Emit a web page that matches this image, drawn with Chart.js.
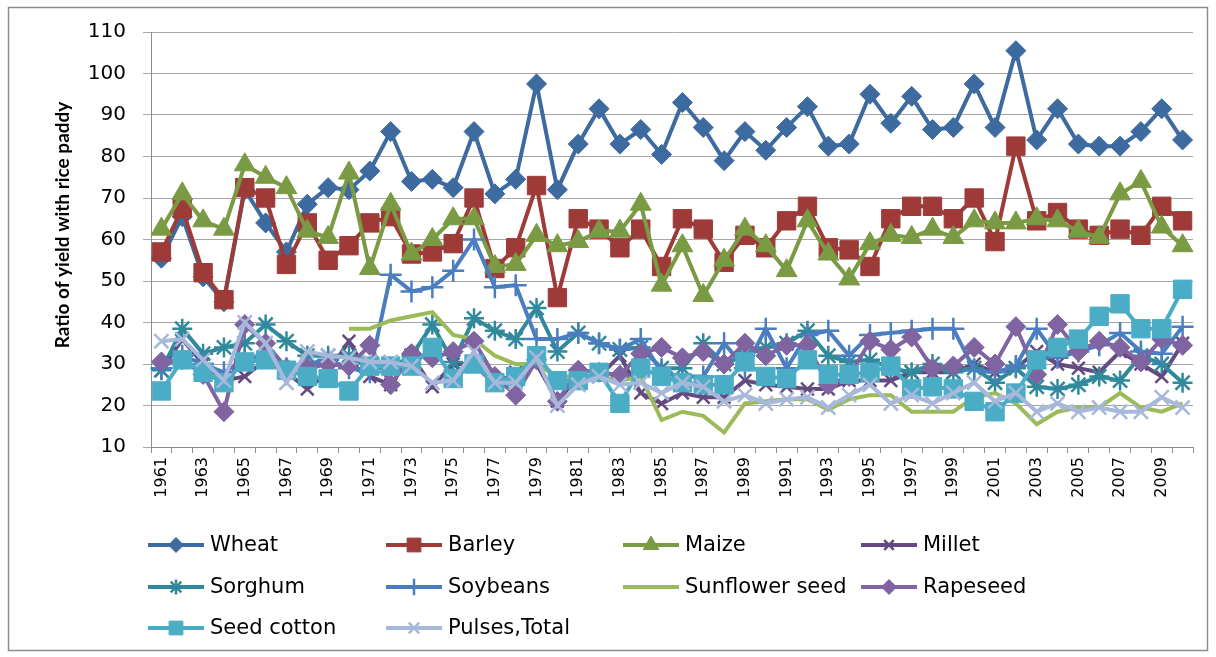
<!DOCTYPE html>
<html>
<head>
<meta charset="utf-8">
<script src="https://cdn.jsdelivr.net/npm/chart.js@4.4.0/dist/chart.umd.min.js"></script>
<style>
html, body { margin: 0; padding: 0; background: #fff; }
</style>
</head>
<body>
<canvas id="chart" width="1216" height="657"></canvas>
<script>
// années
const years = ['1961','1962','1963','1964','1965','1966','1967','1968','1969','1970',
               '1971','1972','1973','1974','1975','1976','1977','1978','1979','1980',
               '1981','1982','1983','1984','1985','1986','1987','1988','1989','1990',
               '1991','1992','1993','1994','1995','1996','1997','1998','1999','2000',
               '2001','2002','2003','2004','2005','2006','2007','2008','2009','2010'];

const yTicks = [10, 20, 30, 40, 50, 60, 70, 80, 90, 100, 110];

const wheat = [55.5, 65.5, 51, 45, 72, 64, 57, 68.5, 72.5, 72,
               76.5, 86, 74, 74.5, 72.5, 86, 71, 74.5, 97.5, 72,
               83, 91.5, 83, 86.5, 80.5, 93, 87, 79, 86, 81.5,
               87, 92, 82.5, 83, 95, 88, 94.5, 86.5, 87, 97.5,
               87, 105.5, 84, 91.5, 83, 82.5, 82.5, 86, 91.5, 84];
const barley = [57, 67.5, 52, 45.5, 72.5, 70, 54, 64, 55, 58.5,
                64, 65.5, 56.5, 57, 59, 70, 53, 58, 73, 46,
                65, 62.5, 58, 62.5, 53.5, 65, 62.5, 54.5, 61, 58,
                64.5, 68, 58, 57.5, 53.5, 65, 68, 68, 65, 70,
                59.5, 82.5, 64.5, 66.5, 62.5, 61, 62.5, 61, 68, 64.5];
const maize = [62.5, 71, 64.5, 62.5, 78, 75, 72.5, 62, 60.5, 76,
               53, 68.5, 56.5, 60, 65, 65, 53.5, 54, 61, 58.5,
               59.5, 62, 62, 68.5, 49, 58.5, 46.5, 55, 62.5, 58.5,
               52.5, 64.5, 56.5, 50.5, 59, 61, 60.5, 62.5, 60.5, 64.5,
               64, 64, 65, 64.5, 62, 60.5, 71, 74, 63, 58.5];
const millet = [28.5, 36, 30, 26, 27, 31, 28, 24, 28, 35.5,
                27, 25, 32, 24.5, 30, 30, 25, 28, 30, 21,
                27, 27, 32, 23, 20.5, 23, 22, 22, 26, 25,
                24.5, 24, 24, 26, 26, 26, 28, 28, 28, 30,
                28, 29, 33, 30, 29, 28, 33, 30, 27, 35];
const sorghum = [28.5, 38.5, 32.5, 34, 35, 39.5, 35.5, 32, 32, 32,
                 29, 29, 32, 39.5, 30.5, 41, 38, 36, 43.5, 33,
                 37.5, 35, 33.5, 34, 29, 29, 35, 30, 32, 34,
                 35, 38, 32, 30.5, 31, 29, 28, 30, 28, 29,
                 25.5, 29, 24.5, 24, 25, 27, 26, 32, 30, 25.5];
const soybeans = [29, 32, 30, 28, 31, 32, 29, 30, 31, 29,
                  28, 51.5, 47.5, 48.5, 52.5, 60, 48.5, 49, 36, 36,
                  37.5, 35, 33.5, 36, 28, 27, 27, 35, 29, 38.5,
                  29, 37, 38, 32, 37, 37.5, 38, 38.5, 38.5, 28.5,
                  28, 29.5, 38.5, 31.5, 33, 34.5, 37.5, 33, 32.5, 39];
const sunflower = [null, null, null, null, null, null, null, null, null, 38.5,
                   38.5, 40.5, 41.5, 42.5, 37, 36, 32, 30, 30, 27,
                   27, 27, 26, 27, 16.5, 18.5, 17.5, 13.5, 20.5, 21,
                   21.5, 21.5, 19, 21.5, 22.5, 22.5, 18.5, 18.5, 18.5, 22,
                   23, 20.5, 15.5, 18.5, 19.5, 19.5, 23, 19.5, 18.5, 20.5];
const rapeseed = [30.5, 31, 27.5, 18.5, 39.5, 35, 29, 29, 30, 29.5,
                  34.5, 25, 32.5, 31.5, 33, 35.5, 27, 22.5, 31, 21,
                  28.5, 28, 27.3, 32.5, 34, 31.5, 33, 30, 35, 32,
                  34.5, 34.5, 25, 27, 35.5, 33.5, 36.5, 29, 29.5, 34,
                  30, 39, 27.5, 39.5, 33, 35.5, 34, 30.5, 36, 34.5];
const seedCotton = [23.5, 31, 28, 25.5, 30.5, 31, 28.5, 27, 26.5, 23.5,
                    29.5, 29.5, 29.5, 34, 26.5, 30, 25.5, 27, 32, 26,
                    26, 28, 20.5, 29, 27, 25.5, 25, 25, 30.5, 27,
                    26.5, 31, 27.5, 27.5, 28, 29.5, 24, 24.5, 24, 21,
                    18.5, 23, 31, 34, 36, 41.5, 44.5, 38.5, 38.5, 48];
const pulses = [35.5, 36, 31, 26, 40, 35, 25.5, 33, 32, 31.5,
                30.5, 30.5, 29.5, 25.5, 26, 33, 25.5, 25.5, 31.5, 20,
                25, 27, 25, 25.5, 23, 25.5, 24.5, 21, 22.5, 20.5,
                21.5, 22, 19.5, 22.5, 25, 20.5, 22.5, 20.5, 23, 25.5,
                21, 23, 18.5, 20.5, 18.5, 19.5, 18.5, 18.5, 22, 19.5];

const yTitle = 'Ratio of yield with rice paddy';

// séries : libellé, données, couleur, marqueur
function serie(label, data, color, style, radius, bw) {
    return {
        label: label,
        data: data,
        borderColor: color,
        backgroundColor: color,
        borderWidth: 4,
        pointStyle: style,
        pointRadius: radius,
        pointHoverRadius: radius,
        pointBackgroundColor: color,
        pointBorderColor: color,
        pointBorderWidth: bw,
        tension: 0,
        spanGaps: false
    };
}

const datasets = [
    serie('Wheat', wheat, '#3d6a9f', 'rectRot', 10, 1),
    serie('Barley', barley, '#9e3b39', 'rect', 13, 1),
    serie('Maize', maize, '#7a9a43', 'triangle', 12, 1),
    serie('Millet', millet, '#634a80', 'crossRot', 9, 2.5),
    serie('Sorghum', sorghum, '#31899c', 'star', 10, 2.5),
    serie('Soybeans', soybeans, '#4a7ec0', 'cross', 11, 2.5),
    serie('Sunflower seed', sunflower, '#9bbb59', false, 0, 0),
    serie('Rapeseed', rapeseed, '#8064a2', 'rectRot', 10, 1),
    serie('Seed cotton', seedCotton, '#4bacc6', 'rect', 13, 1),
    serie('Pulses,Total', pulses, '#a7b8da', 'crossRot', 10, 2.5)
];
// ordre de dessin comme Excel : la première série en dessous
datasets.forEach((d, i) => { d.order = datasets.length - i; });

const legendCols = [148, 386, 623, 861];
const legendRows = [545, 587, 628];

// cadre, titre de l'axe et légende en grille
const framePlugin = {
    id: 'frame',
    beforeDraw(chart) {
        const ctx = chart.ctx;
        ctx.save();
        ctx.fillStyle = '#fff';
        ctx.fillRect(0, 0, chart.width, chart.height);
        ctx.strokeStyle = '#8c8c8c';
        ctx.lineWidth = 1.5;
        ctx.strokeRect(8.5, 7.5, 1199, 643);
        ctx.restore();
    },
    afterDraw(chart) {
        const ctx = chart.ctx;
        ctx.save();
        ctx.translate(63, 225);
        ctx.rotate(-Math.PI / 2);
        ctx.fillStyle = '#000';
        ctx.font = 'bold 19px Lato';
        ctx.textAlign = 'center';
        ctx.textBaseline = 'middle';
        ctx.fillText(yTitle, 0, 0);
        ctx.restore();

        chart.data.datasets.forEach((ds, i) => {
            const x = legendCols[i % 4];
            const y = legendRows[Math.floor(i / 4)];
            ctx.save();
            ctx.strokeStyle = ds.borderColor;
            ctx.fillStyle = ds.borderColor;
            ctx.lineWidth = 4;
            ctx.beginPath();
            ctx.moveTo(x, y);
            ctx.lineTo(x + 56, y);
            ctx.stroke();
            if (ds.pointStyle) {
                ctx.lineWidth = ds.pointBorderWidth;
                Chart.helpers.drawPoint(ctx, {
                    pointStyle: ds.pointStyle,
                    radius: ds.pointRadius * 0.75,
                    borderWidth: ds.pointBorderWidth,
                    rotation: 0
                }, x + 28, y);
            }
            ctx.fillStyle = '#000';
            ctx.font = '21px "DejaVu Sans"';
            ctx.textBaseline = 'middle';
            ctx.fillText(ds.label, x + 62, y + 1);
            ctx.restore();
        });
    }
};

new Chart(document.getElementById('chart'), {
    type: 'line',
    data: { labels: years, datasets: datasets },
    options: {
        responsive: false,
        animation: false,
        layout: { padding: { left: 0, top: 32, right: 23, bottom: 150 } },
        plugins: {
            legend: { display: false },
            tooltip: { enabled: false }
        },
        scales: {
            x: {
                offset: true,
                grid: { display: true, drawOnChartArea: false, drawTicks: true, tickLength: 6, offset: true, color: '#8c8c8c' },
                border: { color: '#8c8c8c' },
                ticks: {
                    autoSkip: false,
                    maxRotation: 90,
                    minRotation: 90,
                    padding: 4,
                    color: '#000',
                    font: { family: 'DejaVu Sans', size: 16 },
                    callback: function(v, i) { return i % 2 === 0 ? years[i] : ''; }
                },
                afterFit: function(s) { s.height = 60; }
            },
            y: {
                min: 10,
                max: 110,
                afterBuildTicks: function(s) { s.ticks = yTicks.map(v => ({ value: v })); },
                grid: { color: '#a6a6a6', tickLength: 8 },
                border: { color: '#8c8c8c' },
                ticks: {
                    padding: 17,
                    color: '#000',
                    font: { family: 'DejaVu Sans', size: 20 }
                },
                afterFit: function(s) { s.width = 151; }
            }
        }
    },
    plugins: [framePlugin]
});
</script>
</body>
</html>
